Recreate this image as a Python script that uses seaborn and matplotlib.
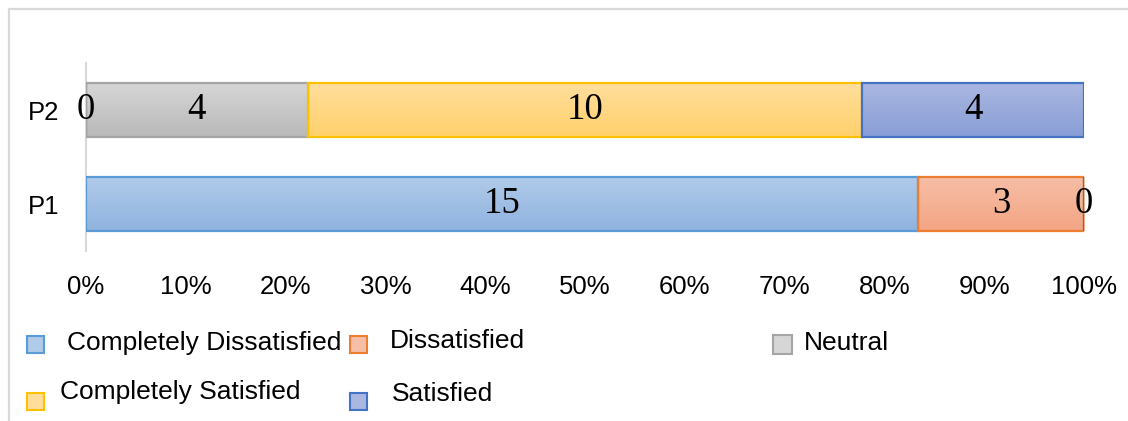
import numpy as np
import pandas as pd
import seaborn as sns
import matplotlib.pyplot as plt
from matplotlib.patches import Rectangle
from matplotlib.lines import Line2D
from matplotlib.colors import LinearSegmentedColormap

# data ------
categories = ["P2", "P1"]
levels = ["Completely Dissatisfied", "Dissatisfied", "Neutral",
          "Completely Satisfied", "Satisfied"]
completely_dissatisfied = [0, 15]
dissatisfied = [0, 3]
neutral = [4, 0]
completely_satisfied = [10, 0]
satisfied = [4, 0]
x_ticks = [0, 10, 20, 30, 40, 50, 60, 70, 80, 90, 100]

counts = pd.DataFrame({
    "Completely Dissatisfied": completely_dissatisfied,
    "Dissatisfied": dissatisfied,
    "Neutral": neutral,
    "Completely Satisfied": completely_satisfied,
    "Satisfied": satisfied,
}, index=categories)
pct = counts.div(counts.sum(axis=1), axis=0) * 100
left = pct.cumsum(axis=1) - pct

# styles: (top colour, bottom colour, edge colour)
styles = {
    "Completely Dissatisfied": ("#b0cae9", "#8fb3df", "#5b9bd5"),
    "Dissatisfied": ("#f6bea6", "#f4a584", "#ed7d31"),
    "Neutral": ("#d6d6d6", "#b9b9b9", "#a5a5a5"),
    "Completely Satisfied": ("#ffde9c", "#ffd16c", "#ffc000"),
    "Satisfied": ("#aab7e1", "#889ed7", "#4472c4"),
}

W, H = 1128, 421
sns.set_theme(style="white")
plt.rcParams["font.family"] = ["Liberation Sans", "DejaVu Sans"]
plt.rcParams["text.color"] = "black"
plt.rcParams["xtick.color"] = "black"
plt.rcParams["ytick.color"] = "black"

fig = plt.figure(figsize=(W / 100, H / 100), dpi=100)
ax = fig.add_axes([86 / W, 1 - 251 / H, (1084 - 86) / W, (251 - 63) / H])

bar_h = 54 / 94
for lev in levels:
    top, bot, edge = styles[lev]
    sns.barplot(x=pct[lev].values, y=categories, order=categories,
                left=left[lev].values, width=bar_h, orient="y",
                color=top, saturation=1,
                facecolor="none", edgecolor=edge, linewidth=1.6,
                ax=ax, zorder=3)

# vertical gradients under each bar
k = 0
for lev in levels:
    top, bot, edge = styles[lev]
    cmap = LinearSegmentedColormap.from_list(lev, [top, bot])
    for i in range(len(categories)):
        p = ax.patches[k]
        k += 1
        x0, y0 = p.get_x(), p.get_y()
        w, h = p.get_width(), p.get_height()
        if w <= 0:
            continue
        grad = np.linspace(0, 1, 64).reshape(-1, 1)
        ax.imshow(grad, cmap=cmap, aspect="auto", origin="upper",
                  extent=(x0, x0 + w, y0 + h, y0), zorder=2,
                  interpolation="bilinear")

# data labels (one per position)
placed = set()
for lev in levels:
    for i, cat in enumerate(categories):
        v = counts.loc[cat, lev]
        xc = left.loc[cat, lev] + pct.loc[cat, lev] / 2
        key = (i, round(xc, 3))
        if key in placed:
            continue
        placed.add(key)
        ax.text(xc, i, str(v), ha="center", va="center", fontsize=26.5,
                family=["Liberation Serif", "DejaVu Serif"], color="black",
                zorder=5)

ax.set_xlim(0, 100)
ax.set_ylim(1.5, -0.5)
ax.set_xticks(x_ticks)
ax.set_xticklabels([f"{t}%" for t in x_ticks])
ax.tick_params(axis="x", length=0, pad=17, labelsize=18.5, labelcolor="black")
ax.tick_params(axis="y", length=0, pad=19, labelsize=18.5, labelcolor="black")
ax.set_xlabel("")
ax.set_ylabel("")
for s in ["top", "right", "bottom"]:
    ax.spines[s].set_visible(False)
ax.spines["left"].set_color("#d9d9d9")
ax.spines["left"].set_linewidth(1.5)
ax.spines["left"].set_zorder(1)

# legend laid out by hand: (square left px, square centre y px, text left px, text centre y px, square size)
legend_layout = {
    "Completely Dissatisfied": (27, 344, 67, 343, 17),
    "Dissatisfied": (350, 344, 390, 341, 17),
    "Neutral": (773, 344, 804, 343, 19),
    "Completely Satisfied": (27, 401, 60, 392, 17),
    "Satisfied": (350, 401, 392, 394, 17),
}
for lev in levels:
    top, bot, edge = styles[lev]
    sx, sy, tx, ty, sq = legend_layout[lev]
    fig.add_artist(Rectangle((sx / W, 1 - (sy + sq / 2) / H), sq / W, sq / H,
                             transform=fig.transFigure, facecolor=top,
                             edgecolor=edge, linewidth=1.5))
    fig.text(tx / W, 1 - ty / H, lev, ha="left", va="center", fontsize=19,
             color="black")

# outer frame (left and top only)
fig.add_artist(Line2D([8.5 / W, 8.5 / W], [0, 1 - 8.5 / H], color="#d9d9d9",
                      linewidth=1.6, transform=fig.transFigure))
fig.add_artist(Line2D([8.5 / W, 1], [1 - 8.5 / H, 1 - 8.5 / H], color="#d9d9d9",
                      linewidth=1.6, transform=fig.transFigure))

fig.savefig("out.png", dpi=100)
